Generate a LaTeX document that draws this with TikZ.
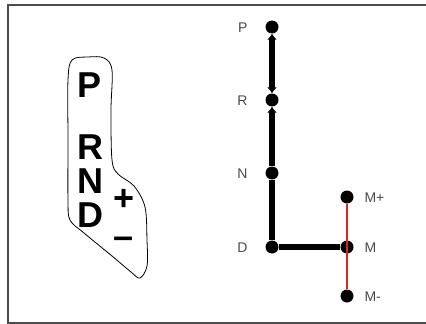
\documentclass[tikz,border=0pt]{standalone}
\usepackage{fontspec}
\setmainfont{Liberation Sans}
\usetikzlibrary{arrows.meta}
\definecolor{lbl}{HTML}{4A4A4A}
\definecolor{redl}{HTML}{D8262E}
\begin{document}
\begin{tikzpicture}[x=1pt,y=-1pt,
  dot/.style={circle,fill=black,inner sep=0pt,minimum size=13pt},
  lab/.style={font=\fontsize{14}{15}\selectfont,text=lbl},
  big/.style={font=\fontsize{36}{36}\selectfont\bfseries,inner sep=0pt},
  sym/.style={font=\fontsize{36}{36}\selectfont\bfseries,inner sep=0pt,text height=16pt,text depth=0pt},
  thick5/.style={line width=6pt},
  tipa/.style={-{Latex[length=6pt,width=10pt]}}]
\useasboundingbox (0,0) rectangle (426,324);
% frame
\draw[line width=1.2pt,color=black!70] (430,5) -- (8,5) -- (8,323) -- (430,323);
% lever outline
\draw[line width=0.8pt] plot[smooth cycle,tension=0.55] coordinates {
 (68,80) (72,60) (88,57) (104,58) (112,70) (111,110) (112,160) (118,174)
 (134,186) (145,207) (147,240) (147,266) (140,278) (131,272) (112,256)
 (84,233) (70,220) (68,200) (68,140)};
\node[big] (tP) at (90,85) {P};
\node[big] (tR) at (90,147) {R};
\node[big] (tN) at (90,181) {N};
\node[big] (tD) at (90,215) {D};
\node[sym] (tplus) at (124,202) {+};
\node[sym] (tminus) at (124,240) {–};
% gate diagram
\node[dot] (P) at (272,27) {};
\node[dot] (R) at (272,100) {};
\node[dot] (N) at (272,173) {};
\node[dot] (D) at (272,247) {};
\node[dot] (M) at (347,247) {};
\node[dot] (Mp) at (347,197) {};
\node[dot] (Mm) at (347,296) {};
\draw[redl,line width=2.2pt] (Mp) -- (Mm);
\draw[thick5] (N) -- (D) -- (M);
\draw[thick5,{Latex[length=6pt,width=10pt]}-{Latex[length=6pt,width=10pt]}] (P) -- (R);
\draw[thick5,tipa] (N) -- (R);
\node[lab,anchor=east] (lP) at (251,28) {P};
\node[lab,anchor=east] (lR) at (251,101) {R};
\node[lab,anchor=east] (lN) at (251,174) {N};
\node[lab,anchor=east] (lD) at (251,248) {D};
\node[lab,anchor=west] (lMp) at (361,198) {M+};
\node[lab,anchor=west] (lM) at (361,248) {M};
\node[lab,anchor=west] (lMm) at (361,297) {M-};
\end{tikzpicture}
\end{document}
